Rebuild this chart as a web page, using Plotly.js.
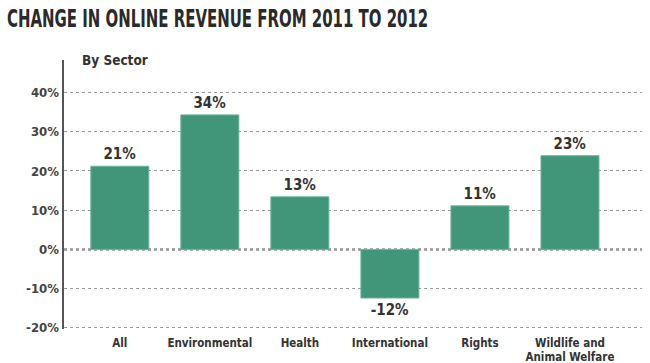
<!DOCTYPE html>
<html>
<head>
<meta charset="utf-8">
<script src="https://cdn.plot.ly/plotly-3.0.1.min.js"></script>
<style>
html,body{margin:0;padding:0;background:#fff;}
#chart{width:650px;height:363px;}
</style>
</head>
<body>
<div id="chart"></div>
<script>
const categories = ["All", "Environmental", "Health", "International", "Rights", "Wildlife and<br>Animal Welfare"];
const values = [21.2, 34.3, 13.4, -12.4, 11.1, 23.9];
const valueLabels = ["21%", "34%", "13%", "-12%", "11%", "23%"];
const tickValues = [-20, -10, 0, 10, 20, 30, 40];
const tickLabels = ["-20%", "-10%", "0%", "10%", "20%", "30%", "40%"];

const FONT = "'DejaVu Sans Condensed', 'DejaVu Sans', sans-serif";
const TXT = "#333333";

const trace = {
  type: "bar",
  x: categories,
  y: values,
  text: valueLabels,
  textposition: "outside",
  cliponaxis: false,
  textfont: {family: FONT, size: 15, color: TXT, weight: "bold", stretch: "condensed"},
  marker: {color: "#41967a", line: {color: "#6cb39a", width: 1}},
  hoverinfo: "skip"
};

const layout = {
  width: 650, height: 363,
  margin: {l: 64, r: 8, t: 60, b: 34},
  paper_bgcolor: "#ffffff",
  plot_bgcolor: "#ffffff",
  bargap: 0.356,
  showlegend: false,
  title: {
    text: "CHANGE IN ONLINE REVENUE FROM 2011 TO 2012",
    font: {family: FONT, size: 25, color: "#2a2a2a", weight: "bold", stretch: "condensed"},
    x: 0.016, xanchor: "left", xref: "container",
    y: 0.95, yanchor: "middle", yref: "container"
  },
  xaxis: {
    type: "category",
    range: [-0.62, 5.8],
    showgrid: false, zeroline: false, showline: false,
    ticks: "",
    ticklabelstandoff: 5,
    tickfont: {family: FONT, size: 11.5, color: TXT, weight: "bold", stretch: "condensed"},
    fixedrange: true
  },
  yaxis: {
    range: [-20.3, 48.3],
    tickvals: tickValues,
    ticktext: tickLabels,
    tickfont: {family: FONT, size: 13, color: "#444", weight: "bold", stretch: "condensed"},
    ticks: "", ticklen: 0,
    showgrid: true, gridcolor: "#9a9a9a", griddash: "dot", gridwidth: 1,
    zeroline: false,
    showline: true, linecolor: "#555555", linewidth: 2.5,
    fixedrange: true
  },
  shapes: [{
    type: "line", xref: "paper", yref: "y", x0: 0, x1: 1, y0: 0, y1: 0,
    line: {color: "#555555", width: 2, dash: "dot"}, layer: "below"
  }],
  annotations: [{
    text: "By Sector", xref: "paper", yref: "paper", x: 0.028, y: 1.0,
    xanchor: "left", yanchor: "middle", showarrow: false,
    font: {family: FONT, size: 13.5, color: TXT, weight: "bold", stretch: "condensed"}
  }]
};

Plotly.newPlot("chart", [trace], layout, {displayModeBar: false, staticPlot: true}).then(function (gd) {
  var t = gd.querySelector(".gtitle");
  if (t) {
    var prev = t.getAttribute("transform") || "";
    t.setAttribute("transform", prev + " scale(0.665,1)");
  }
});
</script>
</body>
</html>
